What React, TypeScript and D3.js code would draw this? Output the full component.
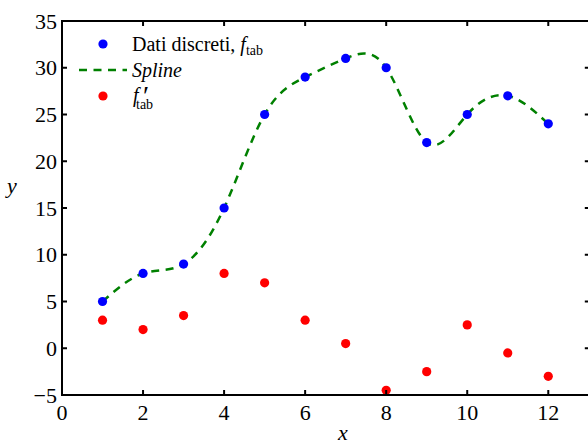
import React from "react";
import * as d3 from "d3";

const xs = [1, 2, 3, 4, 5, 6, 7, 8, 9, 10, 11, 12];
const fTab = [5, 8, 9, 15, 25, 29, 31, 30, 22, 25, 27, 24];
const fPrime = [3, 2, 3.5, 8, 7, 3, 0.5, -4.5, -2.5, 2.5, -0.5, -3];
const xTicks = [0, 2, 4, 6, 8, 10, 12];
const yTicks = [-5, 0, 5, 10, 15, 20, 25, 30, 35];

const W = 588, H = 447;
const L = 62, R = 588.8, T = 21, B = 395;
const FONT = "'Liberation Serif', 'DejaVu Serif', serif";

export default function App() {
  const x = d3.scaleLinear().domain([0, 13]).range([L, R]);
  const y = d3.scaleLinear().domain([-5, 35]).range([B, T]);
  const line = d3.line<number>().x((_, i) => x(xs[i])).y((d) => y(d)).curve(d3.curveNatural);
  const tk = 5;
  return (
    <svg width={W} height={H} style={{ position: "absolute", left: 0, top: 0, background: "#fff" }}>
      <path d={line(fTab) || ""} fill="none" stroke="#008000" strokeWidth={2.5} strokeDasharray="8,6.5" />
      {xs.map((v, i) => (
        <circle key={"b" + i} cx={x(v)} cy={y(fTab[i])} r={4.6} fill="#0000ff" />
      ))}
      {xs.map((v, i) => (
        <circle key={"r" + i} cx={x(v)} cy={y(fPrime[i])} r={4.6} fill="#ff0000" />
      ))}
      <rect x={L} y={T} width={R + 2 - L} height={B - T} fill="none" stroke="#000" strokeWidth={2} />
      {xTicks.map((t) => (
        <g key={"xt" + t}>
          <line x1={x(t)} x2={x(t)} y1={B} y2={B - tk} stroke="#000" strokeWidth={2} />
          <line x1={x(t)} x2={x(t)} y1={T} y2={T + tk} stroke="#000" strokeWidth={2} />
          <text x={x(t)} y={420} textAnchor="middle" fontFamily={FONT} fontSize={22}>{t}</text>
        </g>
      ))}
      {yTicks.map((t) => (
        <g key={"yt" + t}>
          <line x1={L} x2={L + tk} y1={y(t)} y2={y(t)} stroke="#000" strokeWidth={2} />
          <line x1={R + 1} x2={R + 1 - tk} y1={y(t)} y2={y(t)} stroke="#000" strokeWidth={2} />
          <text x={57} y={y(t) + 7.5} textAnchor="end" fontFamily={FONT} fontSize={22}>{t < 0 ? "\u2212" + Math.abs(t) : t}</text>
        </g>
      ))}
      <text x={343} y={440} textAnchor="middle" fontFamily={FONT} fontSize={22} fontStyle="italic">x</text>
      <text x={12} y={193} textAnchor="middle" fontFamily={FONT} fontSize={22} fontStyle="italic">y</text>
      <circle cx={103} cy={44} r={4.6} fill="#0000ff" />
      <text x={132} y={51} fontFamily={FONT} fontSize={20}>
        Dati discreti, <tspan fontStyle="italic">f</tspan>
        <tspan fontSize={14} dy={4}>tab</tspan>
      </text>
      <line x1={79} x2={127} y1={70} y2={70} stroke="#008000" strokeWidth={2.5} strokeDasharray="8,6.5" />
      <text x={132} y={77} fontFamily={FONT} fontSize={20} fontStyle="italic">Spline</text>
      <circle cx={103} cy={96} r={4.6} fill="#ff0000" />
      <text x={133} y={102} fontFamily={FONT} fontSize={20} fontStyle="italic">f</text>
      <text x={143} y={105} fontFamily={FONT} fontSize={28}>′</text>
      <text x={136} y={109} fontFamily={FONT} fontSize={14}>tab</text>
    </svg>
  );
}
